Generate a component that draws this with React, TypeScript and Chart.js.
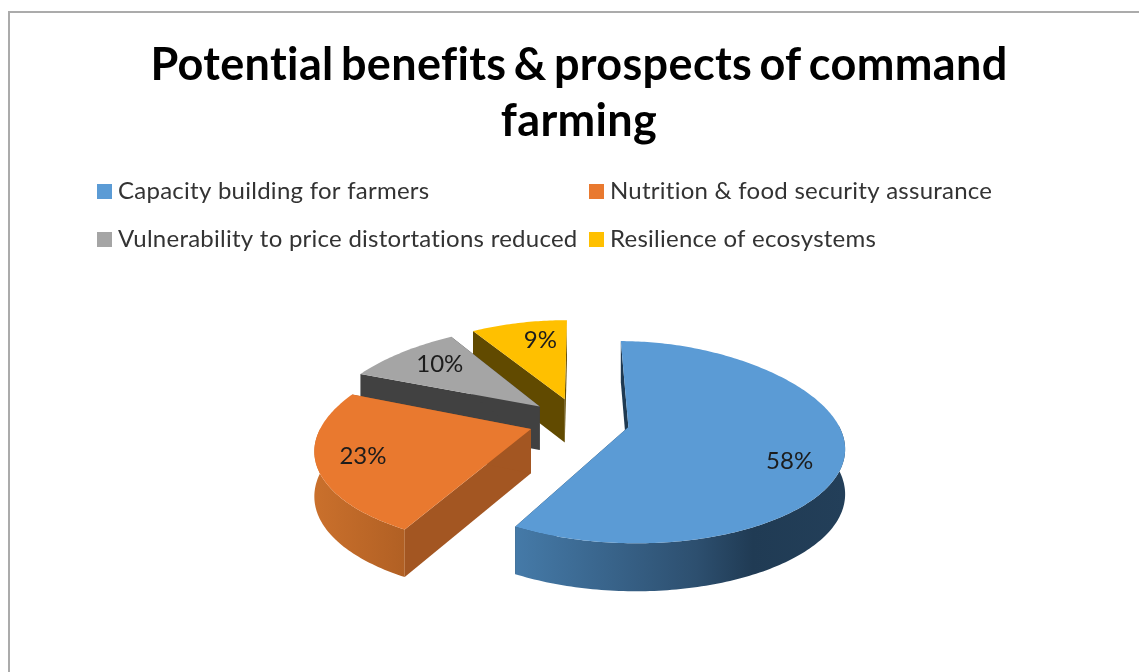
import React, { useEffect, useRef } from "react";
import { Chart, registerables } from "chart.js";

Chart.register(...registerables);

const titleLines = ["Potential benefits & prospects of command", "farming"];
const categories = [
  "Capacity building for farmers",
  "Nutrition & food security assurance",
  "Vulnerability to price distortations reduced",
  "Resilience of ecosystems",
];
const shares = [58, 23, 10, 9];
const topColors = ["#5B9BD5", "#E9792F", "#A5A5A5", "#FFC000"];

const R = 211;
const RY = 97;
const K = 0.15;
const WIDEN = 0.204;
const TIP_WIDEN = 0.153;
const DEPTH = 44;
const EXPLODE = 51;
const cutColors = ["#1F3A52", "#A35622", "#414141", "#614A00"];
const wallStops: [number, string][][] = [
  [[0, "#457AA8"], [0.55, "#2D4F6F"], [0.72, "#203B54"], [1, "#233F59"]],
  [[0, "#CA702C"], [1, "#B16024"]],
  [[0, "#414141"], [1, "#414141"]],
  [[0, "#614A00"], [1, "#614A00"]],
];
const labelReach = [0.74, 0.775, 0.74, 0.53];
const labelDrop = [16, 0, -1, -16];

type P = { x: number; y: number; s: number };

const pie3d = {
  id: "pie3d",
  beforeDraw(chart: any) {
    const ctx: any = chart.ctx;
    ctx.letterSpacing = "0.35px";
    ctx.wordSpacing = "-4px";
  },
  beforeDatasetsDraw(chart: any) {
    const ctx: any = chart.ctx;
    ctx.letterSpacing = "0px";
    ctx.wordSpacing = "0px";
    const arcs = chart.getDatasetMeta(0).data;
    // dx, dy: position of the point relative to the slice tip; ox, oy: tip relative to the pie centre
    const project = (cx: number, cy: number, ox: number, oy: number, dx: number, dy: number): P => {
      const Y = oy + dy;
      const s = 1 / (1 - (K * Y) / R);
      return {
        x: cx + ox * (1 + (TIP_WIDEN * dy) / R) + dx * (1 + (WIDEN * dy) / R),
        y: cy + (Y * RY * s) / R,
        s,
      };
    };
    const low = (p: P): P => ({ x: p.x, y: p.y + DEPTH * Math.sqrt(p.s), s: p.s });
    const poly = (pts: P[]) => {
      ctx.beginPath();
      pts.forEach((p, i) => (i ? ctx.lineTo(p.x, p.y) : ctx.moveTo(p.x, p.y)));
      ctx.closePath();
    };
    const order = [3, 2, 1, 0];
    for (const i of order) {
      const el = arcs[i];
      const { x, y, startAngle, endAngle, outerRadius } = el.getProps(
        ["x", "y", "startAngle", "endAngle", "outerRadius"],
        true
      );
      const mid = (startAngle + endAngle) / 2;
      const off = el.options.offset || 0;
      const ox = Math.cos(mid) * off;
      const oy = Math.sin(mid) * off;
      const tip = project(x, y, ox, oy, 0, 0);
      const rim: P[] = [];
      const front: P[] = [];
      const n = Math.ceil(((endAngle - startAngle) * 180) / Math.PI);
      for (let k = 0; k <= n; k++) {
        const a = startAngle + ((endAngle - startAngle) * k) / n;
        const p = project(x, y, ox, oy, outerRadius * Math.cos(a), outerRadius * Math.sin(a));
        rim.push(p);
        if (Math.sin(a) > -0.02) front.push(p);
      }
      // cut faces
      ctx.fillStyle = cutColors[i];
      poly([tip, rim[0], low(rim[0]), low(tip)]);
      ctx.fill();
      poly([tip, rim[n], low(rim[n]), low(tip)]);
      ctx.fill();
      // outer wall: only the part that faces the viewer
      if (front.length > 1) {
        const xs = front.map((p) => p.x);
        const g = ctx.createLinearGradient(Math.min(...xs), 0, Math.max(...xs), 0);
        wallStops[i].forEach(([t, c]) => g.addColorStop(t, c));
        ctx.fillStyle = g;
        poly([...front, ...front.map(low).reverse()]);
        ctx.fill();
      }
      // top surface
      ctx.fillStyle = el.options.backgroundColor;
      poly([tip, ...rim]);
      ctx.fill();
    }
    // percentage labels
    ctx.font = "24px Lato";
    ctx.fillStyle = "#1c1c1c";
    ctx.textAlign = "center";
    ctx.textBaseline = "middle";
    arcs.forEach((el: any, i: number) => {
      const { x, y, startAngle, endAngle, outerRadius } = el.getProps(
        ["x", "y", "startAngle", "endAngle", "outerRadius"],
        true
      );
      const mid = (startAngle + endAngle) / 2;
      const d = (el.options.offset || 0) + outerRadius * labelReach[i];
      const p = project(x, y, 0, 0, Math.cos(mid) * d, Math.sin(mid) * d);
      ctx.fillText(shares[i] + "%", p.x, p.y + labelDrop[i]);
    });
    return false;
  },
  afterDraw(chart: any) {
    const ctx: any = chart.ctx;
    const boxes = chart.data.datasets[0].backgroundColor;
    const colX = [97, 589];
    const rowY = [192, 240];
    ctx.save();
    ctx.font = "24px Lato";
    ctx.letterSpacing = "0.25px";
    ctx.wordSpacing = "0px";
    ctx.textAlign = "left";
    ctx.textBaseline = "middle";
    chart.data.labels.forEach((label: string, i: number) => {
      const x = colX[i % 2];
      const y = rowY[Math.floor(i / 2)];
      ctx.fillStyle = boxes[i];
      ctx.fillRect(x, y - 8, 15, 15);
      ctx.fillStyle = "#333333";
      ctx.fillText(label, x + 21, y - 1);
    });
    ctx.restore();
  },
};

export default function App() {
  const ref = useRef<HTMLCanvasElement | null>(null);
  useEffect(() => {
    if (!ref.current) return;
    const chart = new Chart(ref.current, {
      type: "pie",
      data: {
        labels: categories,
        datasets: [
          {
            data: shares,
            backgroundColor: topColors,
            borderWidth: 0,
            offset: EXPLODE,
          },
        ],
      },
      options: {
        responsive: false,
        animation: false,
        radius: R,
        layout: { padding: { left: 2 } },
        plugins: {
          legend: { display: false },
          tooltip: { enabled: false },
          title: {
            display: true,
            text: titleLines,
            color: "#000000",
            font: { family: "Lato", size: 45, weight: "bold", lineHeight: 1.25 },
            padding: { top: 37, bottom: 20.5 },
          },
        },
      },
      plugins: [pie3d],
    } as any);
    return () => chart.destroy();
  }, []);
  return (
    <div style={{ position: "fixed", inset: 0, overflow: "hidden", background: "#fff" }}>
      <div
        style={{
          position: "absolute",
          left: 8,
          top: 11,
          width: 1300,
          height: 900,
          border: "2px solid #ABABAB",
        }}
      />
      <canvas
        ref={ref}
        width={1156}
        height={672}
        style={{ position: "absolute", left: 0, top: 0, width: 1156, height: 672 }}
      />
    </div>
  );
}
